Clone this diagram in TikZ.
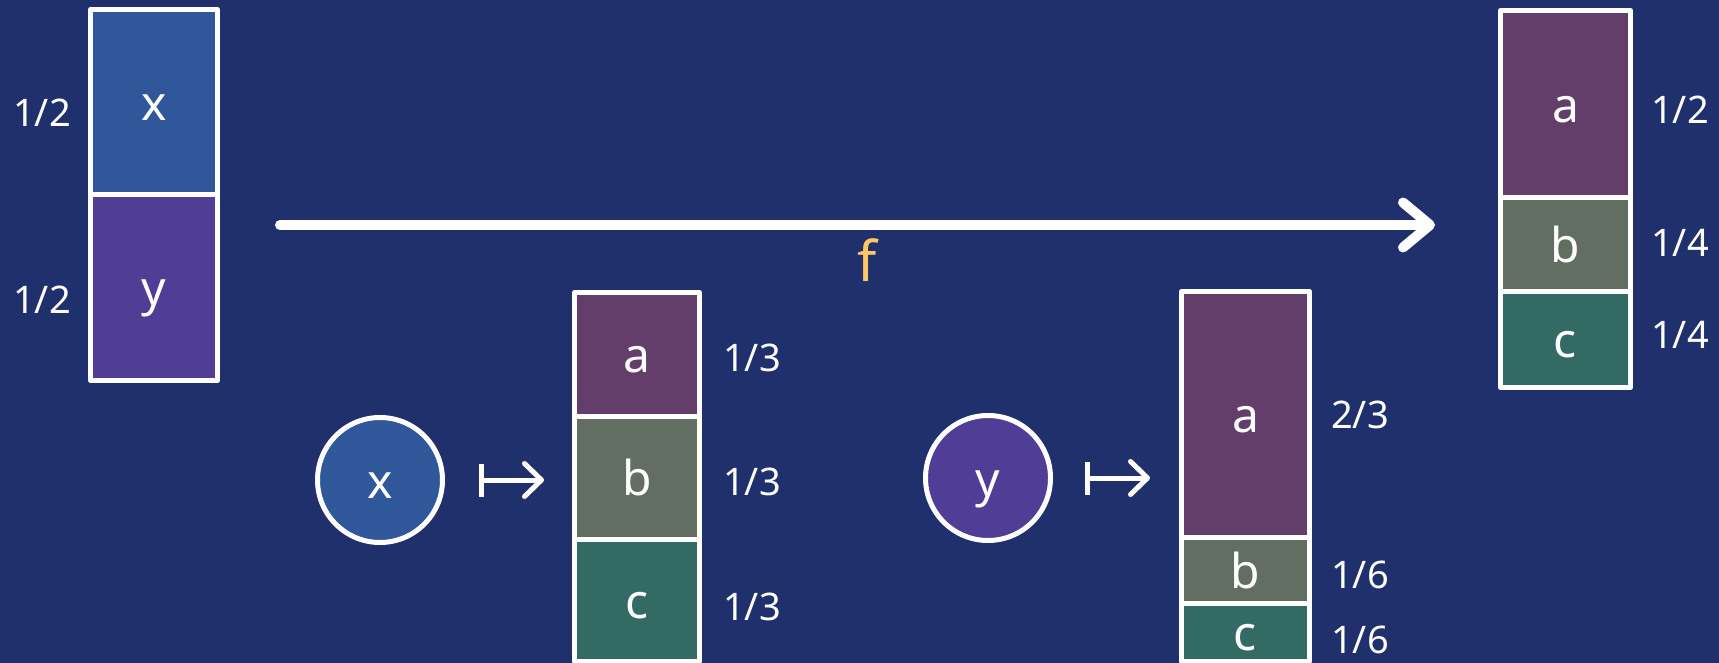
\documentclass[tikz,border=0pt]{standalone}
\usepackage{fontspec}
\setmainfont{Noto Sans}
\usetikzlibrary{arrows.meta}
\definecolor{bgnavy}{RGB}{32,48,108}
\definecolor{xblue}{RGB}{47,87,153}
\definecolor{ypurple}{RGB}{79,61,150}
\definecolor{apurple}{RGB}{99,62,106}
\definecolor{bgrey}{RGB}{99,110,98}
\definecolor{cteal}{RGB}{51,107,100}
\definecolor{forange}{RGB}{255,200,100}
\begin{document}
\begin{tikzpicture}[x=0.5pt,y=-0.5pt,
  cell/.style={draw=white,line width=2.5pt,rectangle,inner sep=0pt,line join=round,
    text=white,font=\fontsize{24}{28}\selectfont,text height=18pt,text depth=0pt},
  blob/.style={draw=white,line width=2.5pt,circle,inner sep=0pt,minimum size=62.5pt,
    text=white,font=\fontsize{24}{28}\selectfont,text height=18pt,text depth=0pt},
  prob/.style={text=white,inner sep=0pt,font=\fontsize{19}{22}\selectfont},
  mapsto/.style={white,line width=2.5pt,line cap=round,
    arrows={Bar[width=16.5pt]-Straight Barb[length=8.5pt,width=16.5pt,round]}},
  bigarrow/.style={white,line width=5pt,line cap=round,
    arrows={-Straight Barb[length=13.5pt,width=22.5pt,round]}}]
\useasboundingbox (0,0) rectangle (1719,663);
\fill[bgnavy] (0,0) rectangle (1719,663);

% left distribution
\node[cell,fill=xblue,minimum width=63.5pt,minimum height=92.75pt] (lx) at (154,102.25) {x};
\node[cell,fill=ypurple,minimum width=63.5pt,minimum height=92.75pt] (ly) at (154,287.75) {y};
\node[prob] (lpx) at (42,113) {1/2};
\node[prob] (lpy) at (42,300) {1/2};

% big arrow f
\coordinate (fs) at (280,225);
\coordinate (fe) at (1435,225);
\draw[bigarrow] (fs) -- (fe);
\node[text=forange,font=\fontsize{28}{32}\selectfont,inner sep=0pt] (flab) at (867,260) {f};

% x maps to
\node[blob,fill=xblue] (cx) at (380,480) {x};
\node[cell,fill=apurple,minimum width=62.5pt,minimum height=61.75pt] (ma) at (637,354.25) {a};
\node[cell,fill=bgrey,minimum width=62.5pt,minimum height=61.5pt] (mb) at (637,477.5) {b};
\node[cell,fill=cteal,minimum width=62.5pt,minimum height=61pt] (mc) at (637,600) {c};
\node[prob] (mpa) at (752,358) {1/3};
\node[prob] (mpb) at (752,482) {1/3};
\node[prob] (mpc) at (752,607) {1/3};
\draw[mapsto,shorten <=17pt,shorten >=14pt] (cx) -- (cx -| ma.west);

% y maps to
\node[blob,fill=ypurple] (cy) at (988,478) {y};
\node[cell,fill=apurple,minimum width=64pt,minimum height=122.75pt] (ra) at (1245.5,414.25) {a};
\node[cell,fill=bgrey,minimum width=64pt,minimum height=33pt] (rb) at (1245.5,570) {b};
\node[cell,fill=cteal,minimum width=64pt,minimum height=29pt] (rc) at (1245.5,632) {c};
\node[prob] (rpa) at (1360,415) {2/3};
\node[prob] (rpb) at (1360,575) {1/6};
\node[prob] (rpc) at (1360,640) {1/6};
\draw[mapsto,shorten <=16pt,shorten >=14.5pt] (cy) -- (cy -| ra.west);

% result distribution
\node[cell,fill=apurple,minimum width=65pt,minimum height=93.75pt] (fa) at (1565.5,104.25) {a};
\node[cell,fill=bgrey,minimum width=65pt,minimum height=47pt] (fb) at (1565.5,245) {b};
\node[cell,fill=cteal,minimum width=65pt,minimum height=47.75pt] (fc) at (1565.5,339.75) {c};
\node[prob] (fpa) at (1680,110) {1/2};
\node[prob] (fpb) at (1680,243) {1/4};
\node[prob] (fpc) at (1680,335) {1/4};
\end{tikzpicture}
\end{document}
